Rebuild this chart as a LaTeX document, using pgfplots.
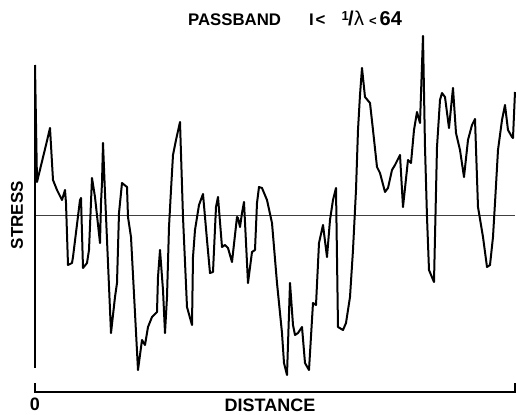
\documentclass[border=0pt]{standalone}
\usepackage{fontspec}
\setmainfont{Liberation Sans}
\usepackage{pgfplots}
\pgfplotsset{compat=1.18}
\begin{document}
\begin{tikzpicture}
\begin{axis}[
  x=0.5pt, y=0.5pt,
  xmin=0, xmax=480, ymin=-177, ymax=179,
  clip=false,
  axis line style={draw=none},
  xtick={0}, xticklabels={0},
  ytick=\empty,
  major tick length=0pt,
  every axis title shift=0pt,
  xticklabel style={font=\fontsize{9}{10}\selectfont\bfseries, anchor=north, inner sep=0pt, yshift=-3pt},
  title={PASSBAND\hspace{14pt}I\kern1pt<\hspace{8pt}\raisebox{2.5pt}{\fontsize{6.5}{6}\selectfont 1}\kern-0.3pt{\fontsize{10}{10}\selectfont/}\kern0.2pt{\fontsize{10}{10}\mdseries λ}\hspace{2.5pt}{\fontsize{6.5}{7}\selectfont<}\kern1.5pt{\fontsize{10}{10}\selectfont 64}},
  title style={font=\fontsize{8.4}{9}\selectfont\bfseries, at={(axis description cs:0.5417,1.0506)}, anchor=center, inner sep=0pt},
  xlabel={DISTANCE},
  xlabel style={font=\fontsize{9}{10}\selectfont\bfseries, at={(axis description cs:0.4896,-0.0365)}, anchor=center, inner sep=0pt},
  ylabel={STRESS},
  ylabel style={font=\fontsize{8.5}{9}\selectfont\bfseries, at={(axis description cs:-0.0375,0.497)}, anchor=center, inner sep=0pt},
]
\path (axis cs:-35,-199) rectangle (axis cs:481,215);
% zero line
\addplot[line width=0.5pt, black!75, forget plot] coordinates {(0,0) (480,0)};
% axis frame pieces
\draw[line width=0.8pt] (axis cs:0,150) -- (axis cs:0,-153);
\draw[line width=0.8pt] (axis cs:0,-168) -- (axis cs:0,-177) -- (axis cs:480,-177) -- (axis cs:480,-168);
% stress series
\addplot[line width=1pt, black, line join=round] coordinates {
(0,150) (2,33) (11,70) (15,87) (18,35) (22,25) (27,15) (30,25) (31,12) (33,-50)
(37,-48) (38,-42) (45,15) (46,17) (48,-53) (52,-48) (54,-35) (57,37) (60,18) (65,-28)
(66,12) (67,32) (68,72) (70,22) (76,-118) (80,-82) (82,-68) (84,2) (87,32) (92,28)
(93,-2) (96,-22) (103,-155) (107,-125) (110,-130) (113,-112) (117,-102) (122,-97) (123,-62) (125,-35)
(128,-75) (130,-118) (132,-82) (134,-12) (136,25) (138,60) (141,75) (145,93) (148,-2) (152,-92)
(157,-110) (158,-42) (160,-15) (164,10) (168,21) (172,-25) (175,-58) (178,-57) (181,8) (183,18)
(187,-32) (190,-30) (193,-33) (197,-47) (202,-2) (203,-3) (205,-12) (207,2) (209,13) (213,-68)
(217,-37) (220,-35) (222,12) (224,28) (227,27) (232,15) (237,-8) (242,-68) (247,-118) (249,-148)
(252,-160) (255,-68) (258,-110) (260,-120) (263,-118) (267,-112) (270,-148) (274,-155) (278,-88) (281,-90)
(284,-28) (288,-10) (292,-42) (295,-5) (298,15) (301,27) (303,-112) (308,-115) (311,-108) (315,-82)
(318,-35) (321,25) (323,85) (325,120) (327,147) (330,118) (335,112) (338,85) (342,48) (345,42)
(350,23) (353,27) (357,45) (360,50) (365,60) (368,8) (373,55) (376,52) (379,85) (382,103)
(385,92) (388,179) (390,68) (392,-2) (394,-55) (399,-67) (402,68) (405,115) (407,122) (410,118)
(414,87) (418,127) (421,82) (425,65) (429,38) (433,75) (437,90) (440,96) (443,8) (448,-22)
(452,-52) (455,-50) (458,-22) (460,12) (463,65) (467,95) (470,110) (473,85) (477,78) (478,77)
(480,123)
};
\end{axis}
\end{tikzpicture}
\end{document}
